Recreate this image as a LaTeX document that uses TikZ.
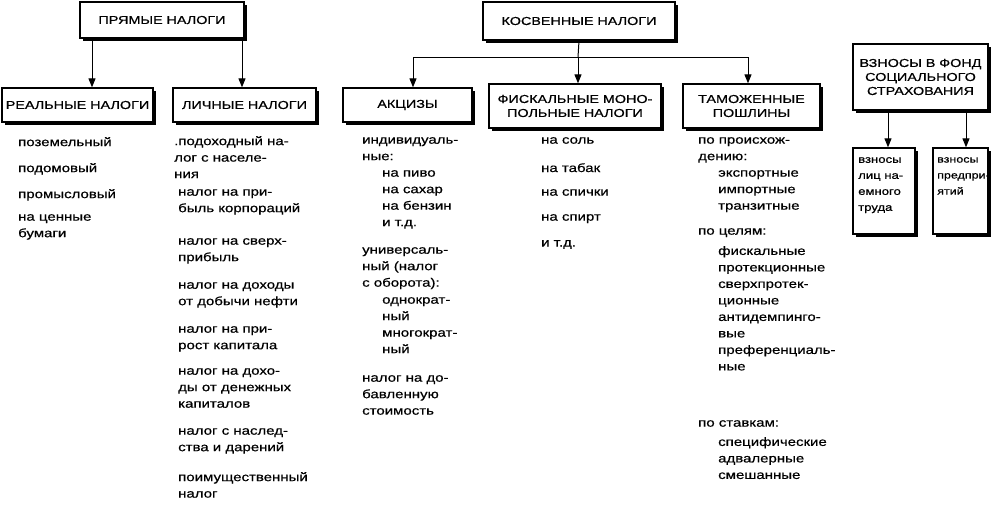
\documentclass[tikz,border=0pt]{standalone}
\usepackage{fontspec}
\setmainfont{Liberation Sans}[FakeStretch=1.25,FakeBold=0.6]
\usetikzlibrary{arrows.meta}
\tikzset{
 box/.style={draw,line width=1.3pt,fill=white,align=center,inner sep=1pt,font=\fontsize{11.5}{14}\selectfont},
 lst/.style={anchor=north west,align=left,inner sep=0pt,font=\fontsize{12}{16.5}\selectfont},
 arr/.style={line width=1pt,-{Triangle[width=7pt,length=9pt]}}
}
\newcommand{\bx}[6]{% name, x1,y1,x2,y2,text
 \fill (#2+3,#3+3) rectangle (#4+3,#5+3);
 \node[box,minimum width=#4-#2,minimum height=#5-#3,text width=#4-#2-2] (#1) at ({(#2+#4)/2},{(#3+#5)/2}) {#6};
}
\begin{document}
\begin{tikzpicture}[x=1pt,y=-1pt]
\useasboundingbox (0,0) rectangle (999,504);
\bx{pr}{80}{2}{244}{38}{ПРЯМЫЕ НАЛОГИ}
\bx{kos}{483}{2}{675}{40}{КОСВЕННЫЕ НАЛОГИ}
\bx{vz}{853}{44}{988}{110}{ВЗНОСЫ В ФОНД СОЦИАЛЬНОГО СТРАХОВАНИЯ}
\bx{re}{2}{88}{153}{122}{РЕАЛЬНЫЕ НАЛОГИ}
\bx{li}{173}{88}{316}{122}{ЛИЧНЫЕ НАЛОГИ}
\bx{ak}{343}{88}{472}{122}{АКЦИЗЫ}
\bx{fi}{489}{84}{661}{128}{ФИСКАЛЬНЫЕ МОНО-\\ПОЛЬНЫЕ НАЛОГИ}
\bx{ta}{683}{84}{820}{128}{ТАМОЖЕННЫЕ\\ПОШЛИНЫ}
\bx{v1}{853}{148}{915}{234}{}
\bx{v2}{933}{148}{988}{234}{}
\node[lst,font=\fontsize{10.5}{16}\selectfont] (v1t) at (858,157) {взносы\\лиц на-\\емного\\труда};
\node[lst,font=\fontsize{10}{16}\selectfont] (v2t) at (937,157) {взносы\\предпри-\\ятий};
% arrows
\draw[arr] (92,0 |- pr.south) coordinate (a1) -- (a1 |- re.north);
\draw[arr] (242,0 |- pr.south) coordinate (a2) -- (a2 |- li.north);
\coordinate (h) at (578,57);
\draw[line width=1pt] (kos.south) -- (h);
\draw[line width=1pt] (413,57) coordinate (hl) -- (748,57) coordinate (hr);
\draw[arr] (hl) -- (hl |- ak.north);
\draw[arr] (h) -- (h |- fi.north);
\draw[arr] (hr) -- (hr |- ta.north);
\draw[arr] (888,0 |- vz.south) coordinate (b1) -- (b1 |- v1.north);
\draw[arr] (966,0 |- vz.south) coordinate (b2) -- (b2 |- v2.north);
% column 1
\node[lst] (c11) at (18,137) {поземельный};
\node[lst] (c12) at (18,163) {подомовый};
\node[lst] (c13) at (18,189) {промысловый};
\node[lst] (c14) at (18,214) {на ценные\\бумаги};
% column 2
\node[lst] (c21) at (174,136) {.подоходный на-\\лог с населе-\\ния};
\node[lst] (c22) at (178,189) {налог на при-\\быль корпораций};
\node[lst] (c23) at (178,238) {налог на сверх-\\прибыль};
\node[lst] (c24) at (178,282) {налог на доходы\\от добычи нефти};
\node[lst] (c25) at (178,326) {налог на при-\\рост капитала};
\node[lst] (c26) at (178,368) {налог на дохо-\\ды от денежных\\капиталов};
\node[lst] (c27) at (178,428) {налог с наслед-\\ства и дарений};
\node[lst] (c28) at (178,472) {поимущественный\\налог};
% column 3
\node[lst] (c31) at (362,137) {индивидуаль-\\ные:};
\node[lst] (c32) at (382,170) {на пиво\\на сахар\\на бензин\\и т.д.};
\node[lst] (c33) at (362,247) {универсаль-\\ный (налог\\с оборота):};
\node[lst] (c34) at (382,297) {однократ-\\ный\\многократ-\\ный};
\node[lst] (c35) at (362,375) {налог на до-\\бавленную\\стоимость};
% column 4
\node[lst] (c41) at (541,137) {на соль};
\node[lst] (c42) at (541,163) {на табак};
\node[lst] (c43) at (541,189) {на спички};
\node[lst] (c44) at (541,214) {на спирт};
\node[lst] (c45) at (541,240) {и т.д.};
% column 5
\node[lst] (c51) at (698,137) {по происхож-\\дению:};
\node[lst] (c52) at (718,170) {экспортные\\импортные\\транзитные};
\node[lst] (c53) at (698,228) {по целям:};
\node[lst] (c54) at (718,246) {фискальные\\протекционные\\сверхпротек-\\ционные\\антидемпинго-\\вые\\преференциаль-\\ные};
\node[lst] (c55) at (698,420) {по ставкам:};
\node[lst] (c56) at (718,437) {специфические\\адвалерные\\смешанные};
\end{tikzpicture}
\end{document}
